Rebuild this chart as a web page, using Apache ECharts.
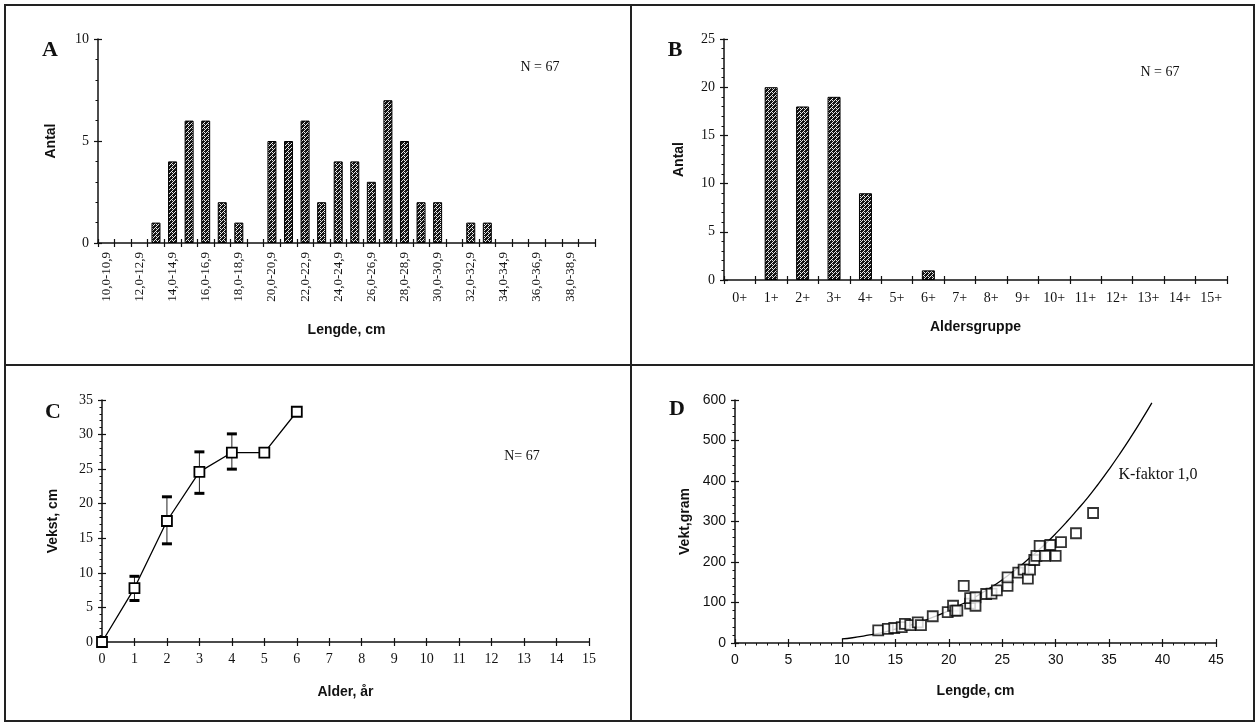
<!DOCTYPE html>
<html>
<head>
<meta charset="utf-8">
<script src="https://cdn.jsdelivr.net/npm/echarts@6/dist/echarts.min.js"></script>
<style>
html,body{margin:0;padding:0;background:#fff;}
#c{width:1259px;height:726px;}
</style>
</head>
<body>
<div id="c"></div>
<script>
// ---------- DATA ----------
// Panel A: length distribution
const lengthClasses = ['10,0-10,9','11,0-11,9','12,0-12,9','13,0-13,9','14,0-14,9','15,0-15,9','16,0-16,9','17,0-17,9','18,0-18,9','19,0-19,9',
  '20,0-20,9','21,0-21,9','22,0-22,9','23,0-23,9','24,0-24,9','25,0-25,9','26,0-26,9','27,0-27,9','28,0-28,9','29,0-29,9',
  '30,0-30,9','31,0-31,9','32,0-32,9','33,0-33,9','34,0-34,9','35,0-35,9','36,0-36,9','37,0-37,9','38,0-38,9','39,0-39,9'];
const lengthCounts = [0,0,0,1,4,6,6,2,1,0, 5,5,6,2,4,4,3,7,5,2, 2,0,1,1,0,0,0,0,0,0];

// Panel B: age groups
const ageGroups = ['0+','1+','2+','3+','4+','5+','6+','7+','8+','9+','10+','11+','12+','13+','14+','15+'];
const ageCounts = [0,20,18,19,9,0,1,0,0,0,0,0,0,0,0,0];

// Panel C: growth by age
const ages       = [0, 1,   2,    3,    4,    5,    6];
const growthMean = [0, 7.8, 17.5, 24.6, 27.4, 27.4, 33.3];
const growthLow  = [null, 6.0, 14.2, 21.5, 25.0, null, null];
const growthHigh = [null, 9.5, 21.0, 27.5, 30.1, null, null];

// Panel D: length-weight
const fishLength = [13.4,14.3,14.9,15.6,15.9,16.4,17.1,17.4,18.5,19.9,20.4,20.6,20.8,21.4,22.0,22.0,22.5,22.5,
  23.5,24.0,24.5,25.5,25.5,26.5,27.0,27.4,27.6,28.0,28.2,28.5,29.0,29.5,30.0,30.5,31.9,33.5];
const fishWeight = [31,35,37,39,47,44,51,44,66,76,92,80,80,141,97,111,113,92,
  121,122,130,141,162,174,181,159,181,205,215,240,215,242,215,249,271,321];
// K-factor 1,0 reference curve
const kLength = [10,11,12,13,14,15,16,17,18,19,20,21,22,23,24,25,26,27,28,29,30,31,32,33,34,35,36,37,38,39];
const kWeight = [10,13,17,22,27,34,41,49,58,69,80,93,106,122,138,156,176,197,220,244,270,298,328,359,393,429,467,507,549,593];

// Texts
const nText = 'N = 67';
const nTextC = 'N= 67';
const kText = 'K-faktor 1,0';

// ---------- STYLE ----------
const SERIF = "'Liberation Serif','Times New Roman',serif";
const SANS = "'Liberation Sans',Arial,sans-serif";
const INK = '#111';

function makePattern(){
  const c = document.createElement('canvas'); c.width = 4; c.height = 4;
  const g = c.getContext('2d');
  g.fillStyle = '#141414'; g.fillRect(0,0,4,4);
  g.fillStyle = '#e8e8e8';
  for (let x=0;x<4;x++) for (let y=0;y<4;y++){
    if ((x+y)%4===2 || (x===0 && y===0)) g.fillRect(x,y,1,1);
  }
  return c;
}
const pattern = {image: makePattern(), repeat: 'repeat'};

const grids = [
  {left: 98,  top: 39,  width: 497, height: 204},
  {left: 724, top: 39,  width: 503, height: 241},
  {left: 102, top: 400, width: 487, height: 242},
  {left: 735, top: 400, width: 481, height: 243}
];

const axLine = {show:true, lineStyle:{color:INK, width:1.5}};

function catX(grid, data, labelOpt, name, nameGap){
  return {
    type:'category', gridIndex:grid, data:data, boundaryGap:true, position:'bottom',
    axisLine: axLine,
    axisTick:{show:true, interval:0, length:4, lineStyle:{color:INK, width:1.2}},
    axisLabel: labelOpt,
    splitLine:{show:false},
    name:name, nameLocation:'middle', nameGap:nameGap,
    nameTextStyle:{fontFamily:SANS, fontWeight:'bold', fontSize:14, color:INK}
  };
}
function catXOverlay(grid, data){
  return {
    type:'category', gridIndex:grid, data:data, boundaryGap:true, position:'bottom',
    axisLine:{show:false}, axisLabel:{show:false}, splitLine:{show:false},
    axisTick:{show:true, inside:true, interval:0, length:4, lineStyle:{color:INK, width:1.2}}
  };
}
function valAxis(grid, min, max, interval, minorSplit, labelFont, labelSize, name, nameGap, isY){
  return {
    type:'value', gridIndex:grid, min:min, max:max, interval:interval,
    position: isY ? 'left' : 'bottom',
    axisLine: axLine,
    axisTick:{show:true, length:4, lineStyle:{color:INK, width:1.2}},
    minorTick:{show: minorSplit>0, splitNumber: minorSplit||5, length:2.5, lineStyle:{color:INK, width:1}},
    axisLabel:{fontFamily:labelFont, fontSize:labelSize, color:INK, margin: isY ? 9 : 10},
    splitLine:{show:false}, minorSplitLine:{show:false},
    name:name, nameLocation:'middle', nameGap:nameGap,
    nameTextStyle:{fontFamily:SANS, fontWeight:'bold', fontSize:14, color:INK}
  };
}
function valOverlay(grid, min, max, interval, isY){
  return {
    type:'value', gridIndex:grid, min:min, max:max, interval:interval,
    position: isY ? 'left' : 'bottom',
    axisLine:{show:false}, axisLabel:{show:false}, splitLine:{show:false},
    axisTick:{show:true, inside:true, length:4, lineStyle:{color:INK, width:1.2}}
  };
}

const xAxes = [
  catX(0, lengthClasses, {interval:1, rotate:90, fontFamily:SERIF, fontSize:13, color:INK, margin:9}, 'Lengde, cm', 80),
  catXOverlay(0, lengthClasses),
  catX(1, ageGroups, {interval:0, fontFamily:SERIF, fontSize:14, color:INK, margin:11}, 'Aldersgruppe', 40),
  catXOverlay(1, ageGroups),
  valAxis(2, 0, 15, 1, 0, SERIF, 14, 'Alder, år', 43, false),
  valOverlay(2, 0, 15, 1, false),
  valAxis(3, 0, 45, 5, 5, SANS, 14, 'Lengde, cm', 41, false),
  valOverlay(3, 0, 45, 5, false)
];
const yAxes = [
  valAxis(0, 0, 10, 5, 5, SERIF, 14, 'Antal', 40, true),
  valOverlay(0, 0, 10, 5, true),
  valAxis(1, 0, 25, 5, 5, SERIF, 14, 'Antal', 38, true),
  valOverlay(1, 0, 25, 5, true),
  valAxis(2, 0, 35, 5, 5, SERIF, 14, 'Vekst, cm', 42, true),
  valOverlay(2, 0, 35, 5, true),
  valAxis(3, 0, 600, 100, 5, SANS, 14, 'Vekt,gram', 43, true),
  valOverlay(3, 0, 600, 100, true)
];

const barStyle = {color: pattern, borderColor:'#000', borderWidth:1};

const growthPts = ages.map((a,i)=>[a, growthMean[i]]);
const errData = [];
ages.forEach((a,i)=>{ if (growthLow[i]!==null) errData.push([a, growthLow[i], growthHigh[i]]); });
const scatterPts = fishLength.map((l,i)=>[l, fishWeight[i]]);
const curvePts = kLength.map((l,i)=>[l, kWeight[i]]);

const series = [
  {type:'bar', xAxisIndex:0, yAxisIndex:0, barWidth:9, data: lengthCounts.map(v=>v===0?null:v), itemStyle: barStyle, silent:true},
  {type:'bar', xAxisIndex:2, yAxisIndex:2, barWidth:13, data: ageCounts.map(v=>v===0?null:v), itemStyle: barStyle, silent:true},
  {type:'custom', xAxisIndex:4, yAxisIndex:4, data: errData, encode:{x:0, y:[1,2]}, z:3,
    renderItem: function(params, api){
      const x = api.value(0), lo = api.value(1), hi = api.value(2);
      const pl = api.coord([x, lo]), ph = api.coord([x, hi]);
      return {type:'group', children:[
        {type:'line', shape:{x1:pl[0], y1:pl[1], x2:ph[0], y2:ph[1]}, style:{stroke:'#222', lineWidth:1}},
        {type:'rect', shape:{x:pl[0]-5, y:pl[1]-1.5, width:10, height:3}, style:{fill:'#000'}},
        {type:'rect', shape:{x:ph[0]-5, y:ph[1]-1.5, width:10, height:3}, style:{fill:'#000'}}
      ]};
    }},
  {type:'line', xAxisIndex:4, yAxisIndex:4, data: growthPts, z:4, symbol:'rect', symbolSize:10,
    itemStyle:{color:'#fff', borderColor:'#000', borderWidth:1.8}, lineStyle:{color:'#000', width:1.3}},
  {type:'line', xAxisIndex:6, yAxisIndex:6, data: curvePts, smooth:true, showSymbol:false, symbol:'none',
    lineStyle:{color:'#000', width:1.3}, z:2},
  {type:'scatter', xAxisIndex:6, yAxisIndex:6, data: scatterPts, symbol:'rect', symbolSize:10, z:3,
    itemStyle:{color:'#fff', borderColor:'#000', borderWidth:1.8}}
];

const frame = {stroke:'#222', lineWidth:2};
const graphic = [
  {type:'rect', shape:{x:5, y:5, width:1249, height:716}, style:{fill:'none', stroke:'#222', lineWidth:2}, silent:true},
  {type:'line', shape:{x1:631, y1:5, x2:631, y2:721}, style:frame, silent:true},
  {type:'line', shape:{x1:5, y1:365, x2:1254, y2:365}, style:frame, silent:true},
  {type:'text', x:50, y:50, style:{text:'A', font:"bold 22px "+SERIF, fill:INK, align:'center', verticalAlign:'middle'}},
  {type:'text', x:675, y:50, style:{text:'B', font:"bold 22px "+SERIF, fill:INK, align:'center', verticalAlign:'middle'}},
  {type:'text', x:53, y:412, style:{text:'C', font:"bold 22px "+SERIF, fill:INK, align:'center', verticalAlign:'middle'}},
  {type:'text', x:677, y:409, style:{text:'D', font:"bold 22px "+SERIF, fill:INK, align:'center', verticalAlign:'middle'}},
  {type:'text', x:540, y:67, style:{text:nText, font:"14px "+SERIF, fill:INK, align:'center', verticalAlign:'middle'}},
  {type:'text', x:1160, y:72, style:{text:nText, font:"14px "+SERIF, fill:INK, align:'center', verticalAlign:'middle'}},
  {type:'text', x:522, y:456, style:{text:nTextC, font:"14px "+SERIF, fill:INK, align:'center', verticalAlign:'middle'}},
  {type:'text', x:1158, y:475, style:{text:kText, font:"16px "+SERIF, fill:INK, align:'center', verticalAlign:'middle'}}
];

const chart = echarts.init(document.getElementById('c'), null, {renderer:'canvas'});
chart.setOption({
  animation:false,
  backgroundColor:'#fff',
  grid: grids,
  xAxis: xAxes,
  yAxis: yAxes,
  series: series,
  graphic: graphic
});
</script>
</body>
</html>
